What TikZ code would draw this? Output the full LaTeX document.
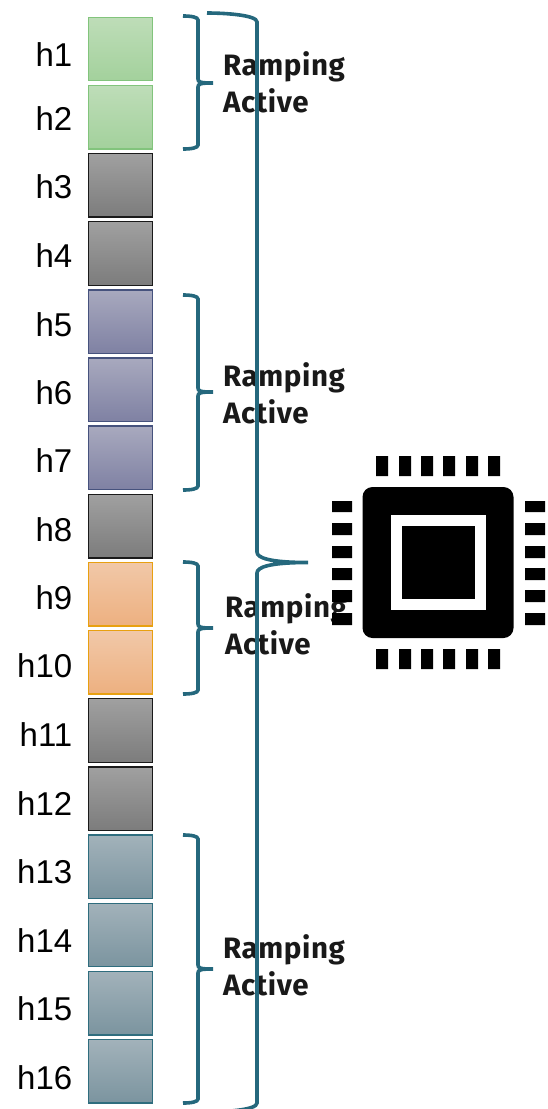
\documentclass[tikz,border=0pt]{standalone}
\usepackage{fontspec}
\setmainfont{Liberation Sans}
\newfontfamily\rampfont[LetterSpace=2]{Fira Sans}
\usetikzlibrary{positioning}

\definecolor{bracecol}{HTML}{25687D}
\definecolor{greenline}{HTML}{82C47C}
\definecolor{greentop}{HTML}{BEDDB8}
\definecolor{greenlow}{HTML}{A3D19C}
\definecolor{grayline}{HTML}{1A1A1A}
\definecolor{graytop}{HTML}{A0A0A0}
\definecolor{graylow}{HTML}{7C7C7C}
\definecolor{purpleline}{HTML}{46527D}
\definecolor{purpletop}{HTML}{A8A9BE}
\definecolor{purplelow}{HTML}{7F81A3}
\definecolor{orangeline}{HTML}{E8A010}
\definecolor{orangetop}{HTML}{F1C8A8}
\definecolor{orangelow}{HTML}{EDB080}
\definecolor{tealline}{HTML}{2F6D7E}
\definecolor{tealtop}{HTML}{A2B2BA}
\definecolor{teallow}{HTML}{7B949F}
\tikzset{
  slot/.style={draw,minimum size=63.5pt,inner sep=0pt,line width=1.4pt},
  greenslot/.style={slot,draw=greenline,top color=greentop,bottom color=greenlow},
  grayslot/.style={slot,draw=grayline,top color=graytop,bottom color=graylow},
  purpleslot/.style={slot,draw=purpleline,top color=purpletop,bottom color=purplelow},
  orangeslot/.style={slot,draw=orangeline,top color=orangetop,bottom color=orangelow},
  tealslot/.style={slot,draw=tealline,top color=tealtop,bottom color=teallow},
  hour/.style={anchor=base east,inner sep=0pt,font=\fontsize{33}{33}\selectfont},
  ramp/.style={anchor=base west,inner sep=0pt,text=black!90,font=\rampfont\bfseries\fontsize{29.5}{29.5}\selectfont},
  bracket/.style={draw=bracecol,line width=3.6pt},
  pad/.style={fill=black}
}

\begin{document}
\begin{tikzpicture}[x=1pt,y=-1pt,node distance=68.15pt]
  \useasboundingbox (0,0) rectangle (547,1109);
  \clip (0,0) rectangle (547,1109);
  \node[greenslot] (1) at (120.5,49) {};
  \node[greenslot,below of=1] (2) {};
  \node[grayslot,below of=2] (3) {};
  \node[grayslot,below of=3] (4) {};
  \node[purpleslot,below of=4] (5) {};
  \node[purpleslot,below of=5] (6) {};
  \node[purpleslot,below of=6] (7) {};
  \node[grayslot,below of=7] (8) {};
  \node[orangeslot,below of=8] (9) {};
  \node[orangeslot,below of=9] (10) {};
  \node[grayslot,below of=10] (11) {};
  \node[grayslot,below of=11] (12) {};
  \node[tealslot,below of=12] (13) {};
  \node[tealslot,below of=13] (14) {};
  \node[tealslot,below of=14] (15) {};
  \node[tealslot,below of=15] (16) {};
  \node[hour] (t1) at (72.5,66) {h1};
  \node[hour] (t2) at (72.5,130) {h2};
  \node[hour] (t3) at (72.5,198) {h3};
  \node[hour] (t4) at (72.5,267) {h4};
  \node[hour] (t5) at (72.5,336) {h5};
  \node[hour] (t6) at (72.5,404) {h6};
  \node[hour] (t7) at (72.5,472) {h7};
  \node[hour] (t8) at (72.5,541) {h8};
  \node[hour] (t9) at (72.5,609) {h9};
  \node[hour] (t10) at (72.5,677) {h10};
  \node[hour] (t11) at (72.5,746) {h11};
  \node[hour] (t12) at (72.5,815) {h12};
  \node[hour] (t13) at (72.5,883) {h13};
  \node[hour] (t14) at (72.5,952) {h14};
  \node[hour] (t15) at (72.5,1020) {h15};
  \node[hour] (t16) at (72.5,1089) {h16};
  \node[ramp] (r1) at (223,75) {Ramping};
  \node[ramp] (a1) at (223,112) {Active};
  \node[ramp] (r2) at (223,386) {Ramping};
  \node[ramp] (a2) at (223,423) {Active};
  \node[ramp] (r3) at (225,617) {Ramping};
  \node[ramp] (a3) at (225,654) {Active};
  \node[ramp] (r4) at (223,958) {Ramping};
  \node[ramp] (a4) at (223,995) {Active};
  % small brackets
  \draw[bracket] (183,16) .. controls (191,16) and (198,17) .. (198,20) -- (198,79) .. controls (198,82) and (200,83) .. (213,83) .. controls (200,83) and (198,84) .. (198,87) -- (198,145) .. controls (198,148) and (191,149) .. (183,149);
  \draw[bracket] (183,295) .. controls (191,295) and (198,296) .. (198,299) -- (198,388) .. controls (198,391) and (200,392) .. (213,392) .. controls (200,392) and (198,393) .. (198,396) -- (198,486) .. controls (198,489) and (191,490) .. (183,490);
  \draw[bracket] (183,562) .. controls (191,562) and (198,563) .. (198,566) -- (198,624) .. controls (198,627) and (200,628) .. (213,628) .. controls (200,628) and (198,629) .. (198,632) -- (198,690) .. controls (198,693) and (191,694) .. (183,694);
  \draw[bracket] (183,835) .. controls (191,835) and (198,836) .. (198,839) -- (198,965) .. controls (198,968) and (200,969) .. (213,969) .. controls (200,969) and (198,970) .. (198,973) -- (198,1099) .. controls (198,1102) and (191,1103) .. (183,1103);
  % big bracket
  \draw[bracket] (207,13) .. controls (225,13) and (257,15) .. (257,22) -- (257,552) .. controls (257,558) and (270,562.5) .. (308,562.5) .. controls (270,562.5) and (257,567) .. (257,573) -- (257,1103) .. controls (257,1110) and (225,1112) .. (207,1112);
  % chip
  \node[fill=black,rounded corners=10pt,minimum size=151pt,inner sep=0pt] (chip) at (438,562.5) {};
  \node[fill=white,minimum size=95pt,inner sep=0pt] (ring) at (chip.center) {};
  \node[fill=black,minimum size=73pt,inner sep=0pt] (core) at (chip.center) {};
  \fill[pad] (376,456) rectangle (388,476) (399,456) rectangle (411,476) (421,456) rectangle (433,476) (443,456) rectangle (455,476) (466,456) rectangle (478,476) (488,456) rectangle (500,476);
  \fill[pad] (376,649) rectangle (388,669) (399,649) rectangle (411,669) (421,649) rectangle (433,669) (443,649) rectangle (455,669) (466,649) rectangle (478,669) (488,649) rectangle (500,669);
  \fill[pad] (332,501) rectangle (352,512) (332,523) rectangle (352,535) (332,546) rectangle (352,558) (332,568) rectangle (352,580) (332,590) rectangle (352,602) (332,613) rectangle (352,625);
  \fill[pad] (525,501) rectangle (545,512) (525,523) rectangle (545,535) (525,546) rectangle (545,558) (525,568) rectangle (545,580) (525,590) rectangle (545,602) (525,613) rectangle (545,625);
\end{tikzpicture}
\end{document}
